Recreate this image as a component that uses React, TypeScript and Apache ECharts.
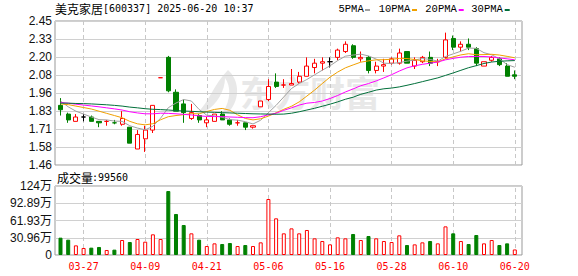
import React, { useEffect, useRef } from 'react';
import * as echarts from 'echarts';

const dates = ['03-24','03-25','03-26','03-27','03-28','03-31','04-01','04-02','04-03','04-07','04-08','04-09','04-10','04-11','04-14','04-15','04-16','04-17','04-18','04-21','04-22','04-23','04-24','04-25','04-28','04-29','04-30','05-06','05-07','05-08','05-09','05-12','05-13','05-14','05-15','05-16','05-19','05-20','05-21','05-22','05-23','05-26','05-27','05-28','05-29','05-30','06-03','06-04','06-05','06-06','06-09','06-10','06-11','06-12','06-13','06-16','06-17','06-18','06-19','06-20'];

const openPrices = [1.87,1.81,1.76,1.79,1.79,1.76,1.76,1.75,1.74,1.72,1.57,1.64,1.70,2.06,2.20,1.96,1.88,1.78,1.80,1.75,1.76,1.81,1.77,1.75,1.75,1.72,1.86,1.91,2.03,2.01,2.01,2.03,2.07,2.13,2.16,2.17,2.20,2.24,2.28,2.19,2.20,2.11,2.14,2.16,2.16,2.24,2.14,2.17,2.20,2.17,2.20,2.33,2.27,2.29,2.26,2.14,2.18,2.19,2.14,2.08];
const closePrices = [1.84,1.77,1.79,1.79,1.76,1.75,1.76,1.75,1.78,1.61,1.67,1.70,1.87,2.06,1.97,1.83,1.82,1.82,1.77,1.77,1.81,1.77,1.74,1.75,1.72,1.73,1.90,2.00,2.00,2.01,2.02,2.07,2.14,2.16,2.17,2.17,2.25,2.29,2.20,2.20,2.11,2.14,2.15,2.19,2.23,2.16,2.18,2.20,2.16,2.17,2.32,2.27,2.29,2.27,2.16,2.17,2.20,2.15,2.07,2.07];
const lowPrices = [1.80,1.75,1.76,1.76,1.76,1.72,1.73,1.74,1.73,1.61,1.57,1.55,1.68,2.06,1.96,1.83,1.75,1.77,1.75,1.72,1.76,1.77,1.73,1.73,1.70,1.71,1.86,1.90,1.99,1.99,2.01,2.02,2.07,2.09,2.11,2.13,2.18,2.23,2.19,2.17,2.09,2.09,2.10,2.15,2.15,2.16,2.12,2.16,2.14,2.14,2.19,2.25,2.24,2.25,2.14,2.14,2.17,2.14,2.07,2.05];
const highPrices = [1.92,1.82,1.81,1.81,1.80,1.76,1.77,1.77,1.83,1.72,1.70,1.73,1.87,2.06,2.21,1.98,1.91,1.88,1.81,1.79,1.81,1.83,1.78,1.77,1.75,1.73,1.90,2.05,2.09,2.05,2.12,2.10,2.20,2.19,2.20,2.20,2.26,2.31,2.29,2.24,2.21,2.17,2.19,2.20,2.26,2.24,2.20,2.21,2.24,2.19,2.37,2.35,2.31,2.33,2.27,2.17,2.21,2.20,2.16,2.11];

const volumes = [311000,275000,173000,126000,132000,144000,90000,96000,269000,233000,287000,239000,371000,287000,1148000,736000,538000,389000,275000,161000,209000,197000,215000,161000,179000,161000,227000,1005000,658000,389000,478000,389000,449000,299000,251000,191000,317000,299000,377000,269000,341000,299000,251000,233000,353000,179000,191000,227000,251000,209000,514000,389000,251000,197000,359000,209000,269000,179000,209000,99560];

const ma5 = [1.900,1.860,1.830,1.810,1.790,1.772,1.770,1.762,1.760,1.730,1.714,1.702,1.726,1.782,1.854,1.886,1.910,1.900,1.842,1.802,1.798,1.788,1.772,1.768,1.758,1.742,1.768,1.820,1.870,1.928,1.986,2.020,2.048,2.080,2.112,2.142,2.178,2.208,2.216,2.222,2.210,2.188,2.160,2.158,2.164,2.174,2.182,2.192,2.186,2.174,2.206,2.224,2.242,2.264,2.262,2.232,2.218,2.190,2.150,2.132];
const ma10 = [1.880,1.875,1.865,1.855,1.845,1.830,1.815,1.800,1.785,1.760,1.743,1.736,1.744,1.771,1.792,1.800,1.806,1.813,1.812,1.828,1.842,1.849,1.836,1.805,1.780,1.770,1.778,1.796,1.819,1.843,1.864,1.894,1.934,1.975,2.020,2.064,2.099,2.128,2.148,2.167,2.176,2.183,2.184,2.187,2.193,2.192,2.185,2.176,2.172,2.169,2.190,2.203,2.217,2.225,2.218,2.219,2.221,2.216,2.207,2.197];
const ma20 = [1.890,1.885,1.878,1.872,1.866,1.860,1.853,1.846,1.838,1.826,1.818,1.812,1.812,1.816,1.815,1.812,1.808,1.804,1.798,1.794,1.793,1.793,1.790,1.788,1.786,1.785,1.792,1.805,1.816,1.836,1.853,1.872,1.885,1.890,1.900,1.917,1.938,1.962,1.983,2.005,2.020,2.038,2.059,2.081,2.106,2.128,2.142,2.152,2.160,2.168,2.183,2.193,2.201,2.206,2.206,2.206,2.203,2.196,2.190,2.183];
const ma30 = [1.885,1.885,1.883,1.882,1.880,1.877,1.874,1.870,1.865,1.858,1.853,1.847,1.843,1.841,1.838,1.834,1.831,1.829,1.826,1.824,1.822,1.820,1.818,1.816,1.814,1.812,1.811,1.810,1.809,1.810,1.816,1.826,1.838,1.850,1.864,1.878,1.894,1.912,1.926,1.946,1.960,1.975,1.984,1.989,1.997,2.008,2.020,2.033,2.046,2.059,2.076,2.093,2.111,2.129,2.143,2.158,2.168,2.173,2.176,2.178];

const priceTickLabels = ['1.46','1.58','1.71','1.83','1.96','2.08','2.20','2.33','2.45'];
const volumeTickLabels = ['0','30.96万','61.93万','92.89万','124万'];
const markedDates = ['03-27','04-09','04-21','05-06','05-16','05-28','06-10','06-20'];
const legendNames = ['5PMA','10PMA','20PMA','30PMA'];

const RED = '#ff0000';
const GREEN = '#008000';
const BLACK = '#000000';
const MA_COLORS = ['#a0a0a0','#f0a000','#ff00ff','#006f3a'];
const CJK = '"Noto Sans CJK SC", sans-serif';
const MONO = '"DejaVu Sans Mono", monospace';
const LEG = '"Liberation Mono", monospace';

let logoRegistered = false;

export default function App() {
  const ref = useRef<HTMLDivElement>(null);
  useEffect(() => {
    document.body.style.margin = '0';
    if (!logoRegistered) {
      echarts.graphic.registerShape('logo', echarts.graphic.extendPath(
        'M30 0 C41 10 43 28 31 42 L25 42 C33 30 33 16 27 8 C27 21 19 34 7 42 L0 42 C11 32 16 14 30 0 Z', {}
      ) as any);
      logoRegistered = true;
    }
    const chart = echarts.init(ref.current!, undefined, { renderer: 'svg', width: 578, height: 276 });

    const candleData = dates.map((d, i) => {
      const o = openPrices[i];
      const c = closePrices[i];
      const item: any = { value: [o, c, lowPrices[i], highPrices[i]] };
      if (o === c) {
        const prev = i > 0 ? closePrices[i - 1] : c;
        const col = c > prev ? RED : c < prev ? GREEN : BLACK;
        item.itemStyle = { color: col, color0: col, borderColor: col, borderColor0: col, borderColorDoji: col };
      }
      return item;
    });

    const volumeData = volumes.map((v, i) => {
      const up = i === 0 ? closePrices[0] >= openPrices[0] : closePrices[i] >= closePrices[i - 1];
      return {
        value: v,
        itemStyle: up
          ? { color: '#ffffff', borderColor: RED, borderWidth: 1 }
          : { color: GREEN, borderColor: GREEN, borderWidth: 1 },
      };
    });

    const markLineOpt = {
      silent: true,
      z: 1,
      symbol: ['none', 'none'],
      label: { show: false },
      emphasis: { disabled: true },
      animation: false,
      lineStyle: { color: '#c8c8c8', type: [4, 3], width: 1 },
      data: markedDates.map((d) => ({ xAxis: d })),
    };

    const maSeries = [ma5, ma10, ma20, ma30].map((arr, k) => ({
      name: legendNames[k],
      type: 'line',
      xAxisIndex: 1,
      yAxisIndex: 1,
      data: arr,
      symbol: 'none',
      showSymbol: false,
      smooth: false,
      z: 3,
      lineStyle: { color: MA_COLORS[k], width: 1 },
      itemStyle: { color: MA_COLORS[k] },
    }));

    const legendX = [338.5, 378.7, 425.3, 471.3];
    const markerX = [365, 412, 458.7, 504.7];
    const legendGraphics: any[] = [];
    legendNames.forEach((n, k) => {
      legendGraphics.push({
        type: 'text', x: legendX[k], y: 9, silent: true,
        style: { text: n, fontSize: 10.5, fontFamily: LEG, fill: '#000', verticalAlign: 'middle', align: 'left' },
      });
      legendGraphics.push({
        type: 'rect', x: markerX[k], y: 9, silent: true,
        shape: { width: 5, height: 2 }, style: { fill: MA_COLORS[k] },
      });
    });

    const option: any = {
      animation: false,
      backgroundColor: '#ffffff',
      grid: [
        { left: 55, top: 21, width: 467, height: 144, show: true, borderColor: '#999999', borderWidth: 1, backgroundColor: 'transparent' },
        { left: 56.65, top: 21, width: 462, height: 144 },
        { left: 55, top: 186, width: 467, height: 69, show: true, borderColor: '#999999', borderWidth: 1, backgroundColor: 'transparent' },
        { left: 56.65, top: 186, width: 462, height: 69 },
      ],
      xAxis: [
        { type: 'value', gridIndex: 0, min: 0, max: 1, show: false },
        { type: 'category', gridIndex: 1, data: dates, boundaryGap: true, show: false },
        { type: 'value', gridIndex: 2, min: 0, max: 1, show: false },
        {
          type: 'category', gridIndex: 3, data: dates, boundaryGap: true,
          axisLine: { show: false }, axisTick: { show: false }, splitLine: { show: false },
          axisLabel: {
            show: true,
            interval: (idx: number) => (idx - 3) % 8 === 0,
            color: RED, fontSize: 10, fontFamily: MONO, margin: 6,
          },
        },
      ],
      yAxis: [
        {
          type: 'value', gridIndex: 0, min: 0, max: 8, interval: 1,
          axisLine: { show: false }, axisTick: { show: false },
          splitLine: { show: true, lineStyle: { color: '#d0d0d0', width: 1 } },
          axisLabel: {
            show: true, margin: 3, color: '#111', fontSize: 12, fontFamily: '"Liberation Sans", Arial, sans-serif',
            formatter: (v: number) => priceTickLabels[Math.round(v)] ?? '',
          },
        },
        { type: 'value', gridIndex: 1, min: 1.46, max: 2.45, show: false, splitLine: { show: false } },
        {
          type: 'value', gridIndex: 2, min: 0, max: 4, interval: 1,
          axisLine: { show: false }, axisTick: { show: false },
          splitLine: { show: true, lineStyle: { color: '#d0d0d0', width: 1 } },
          axisLabel: {
            show: true, margin: 3, color: '#111', fontSize: 12, fontFamily: '"Liberation Sans", "Noto Sans CJK SC", sans-serif',
            formatter: (v: number) => volumeTickLabels[Math.round(v)] ?? '',
          },
        },
        { type: 'value', gridIndex: 3, min: 0, max: 1238560, show: false, splitLine: { show: false } },
      ],
      series: [
        {
          name: 'K',
          type: 'candlestick',
          xAxisIndex: 1,
          yAxisIndex: 1,
          data: candleData,
          barWidth: 4.6,
          z: 2,
          itemStyle: {
            color: '#ffffff', color0: GREEN, borderColor: RED, borderColor0: GREEN, borderWidth: 1,
          },
          markLine: markLineOpt,
        },
        ...maSeries,
        {
          name: '成交量',
          type: 'bar',
          xAxisIndex: 3,
          yAxisIndex: 3,
          data: volumeData,
          barWidth: 4,
          z: 2,
          markLine: markLineOpt,
        },
      ],
      graphic: [
        { type: 'logo', x: 198, y: 70, scaleX: 1, scaleY: 1, z: 0, silent: true, style: { fill: '#e8e8e8' } },
        {
          type: 'text', x: 240, y: 74, z: 0, silent: true,
          style: { text: '东方财富', fontSize: 35, fontWeight: 'bold', fontFamily: CJK, fill: '#e8e8e8' },
        },
        {
          type: 'text', x: 55, y: 8.5, silent: true,
          style: { text: '美克家居', fontSize: 12, fontFamily: CJK, fill: '#000', verticalAlign: 'middle' },
        },
        {
          type: 'text', x: 103, y: 8.5, silent: true,
          style: { text: '[600337] 2025-06-20 10:37', fontSize: 10, fontFamily: MONO, fill: '#000', verticalAlign: 'middle' },
        },
        {
          type: 'text', x: 57, y: 177, silent: true,
          style: { text: '成交量', fontSize: 12, fontFamily: CJK, fill: '#000', verticalAlign: 'middle' },
        },
        {
          type: 'text', x: 92, y: 177, silent: true,
          style: { text: ':99560', fontSize: 10, fontFamily: MONO, fill: '#000', verticalAlign: 'middle' },
        },
        ...legendGraphics,
      ],
    };

    chart.setOption(option);
    return () => chart.dispose();
  }, []);

  return <div ref={ref} style={{ position: 'absolute', left: 0, top: 0, width: 578, height: 276 }} />;
}
